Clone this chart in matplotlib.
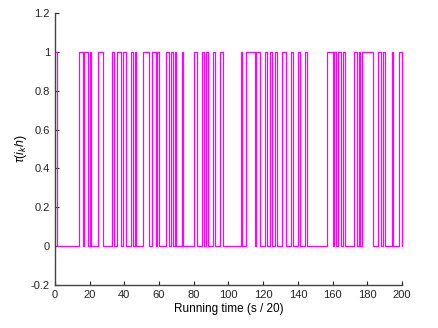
import matplotlib
matplotlib.use("Agg")
import matplotlib.pyplot as plt
import numpy as np

# switching instants of the delay indicator, level starts at 1 and alternates
switch_t = [0, 1, 14, 16, 17, 19, 20, 21, 25, 28, 33, 34, 36, 38, 39, 41,
            44, 45, 46, 47, 51, 54, 56, 58, 59, 60, 64, 66, 67, 68, 69, 70,
            73, 74, 80, 82, 85, 86, 87, 88, 91, 92, 95, 97, 107, 108,
            110, 115, 116, 118, 121, 122, 124, 125, 127, 128, 131, 133,
            136, 137, 140, 141, 144, 145, 157, 160, 161, 162, 163, 165,
            166, 167, 172, 174, 175, 176, 177, 183, 186, 188, 189, 190,
            194, 195, 198, 200]
levels = [1 - (i % 2) for i in range(len(switch_t))]

xticks = list(range(0, 201, 20))
yticks = [-0.2, 0, 0.2, 0.4, 0.6, 0.8, 1, 1.2]
ytick_labels = ["-0.2", "0", "0.2", "0.4", "0.6", "0.8", "1", "1.2"]

plt.rcParams['font.family'] = ['Liberation Sans', 'DejaVu Sans']
plt.rcParams['mathtext.fontset'] = 'custom'
plt.rcParams['mathtext.it'] = 'Liberation Sans:italic'
plt.rcParams['mathtext.rm'] = 'Liberation Sans'

fig = plt.figure(figsize=(4.39, 3.28), dpi=100)
ax = fig.add_axes([0.125, 0.131, 0.791, 0.829])

ax.step(switch_t, levels, where='post', color='#ff00ff', linewidth=0.9,
        clip_on=False)

ax.set_xlim(0, 200)
ax.set_ylim(-0.2, 1.2)
ax.set_xticks(xticks)
ax.set_yticks(yticks)
ax.set_yticklabels(ytick_labels)
ax.tick_params(direction='in', length=3, width=0.8, labelsize=8, colors='#222222')

for s in ['top', 'right']:
    ax.spines[s].set_visible(False)
for s in ['left', 'bottom']:
    ax.spines[s].set_color('#444444')
    ax.spines[s].set_linewidth(1.0)

ax.set_xlabel('Running time (s / 20)', fontsize=8.5, labelpad=2)
ax.set_ylabel(r'$\tau(i_k h)$', fontsize=9, labelpad=1)

fig.savefig('out.png', dpi=100)
